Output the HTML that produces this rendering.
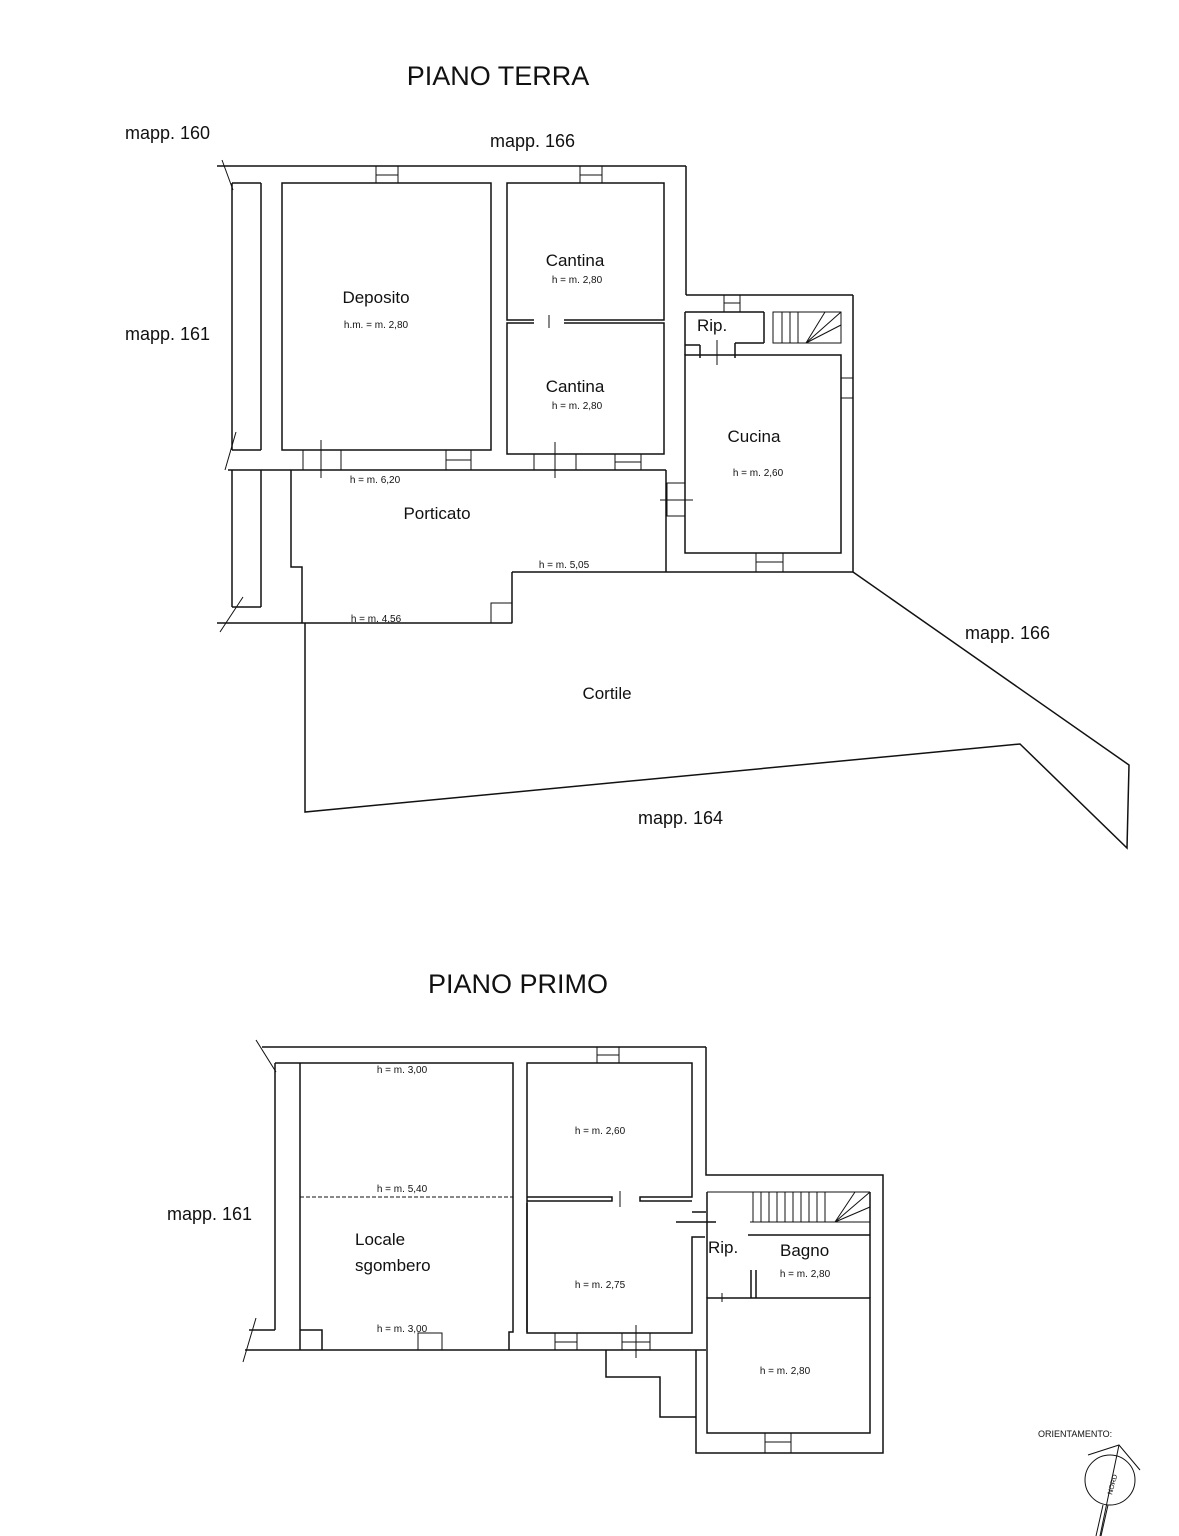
<!DOCTYPE html>
<html><head><meta charset="utf-8"><style>
html,body{margin:0;padding:0;background:#fff;}
svg{display:block;}
text{font-family:"Liberation Sans",sans-serif;fill:#111;}
.t{font-size:17px;}
.m{font-size:18px;}
.s{font-size:10px;}
.h{font-size:27px;}
</style></head><body>
<svg width="1179" height="1536" viewBox="0 0 1179 1536" xmlns="http://www.w3.org/2000/svg">
<g fill="none" stroke="#111" stroke-width="1.5">
<line x1="217" y1="166" x2="686" y2="166"/>
<line x1="222" y1="160" x2="233" y2="190" stroke-width="1"/>
<line x1="232" y1="183" x2="261" y2="183"/>
<line x1="232" y1="183" x2="232" y2="450"/>
<line x1="261" y1="183" x2="261" y2="450"/>
<line x1="232" y1="450" x2="261" y2="450"/>
<line x1="228" y1="470" x2="666" y2="470"/>
<line x1="232" y1="470" x2="232" y2="607"/>
<line x1="261" y1="470" x2="261" y2="607"/>
<line x1="232" y1="607" x2="261" y2="607"/>
<line x1="225" y1="470" x2="236" y2="432" stroke-width="1"/>
<line x1="220" y1="632" x2="243" y2="597" stroke-width="1"/>
<rect x="282" y="183" width="209" height="267"/>
<rect x="507" y="183" width="157" height="137"/>
<rect x="507" y="323" width="157" height="131"/>
<line x1="534" y1="321.5" x2="564" y2="321.5" stroke="#fff" stroke-width="5"/>
<line x1="549" y1="315" x2="549" y2="328" stroke-width="1"/>
<rect x="376" y="166" width="22" height="17" stroke-width="1"/><line x1="376" y1="175" x2="398" y2="175" stroke-width="1"/>
<rect x="580" y="166" width="22" height="17" stroke-width="1"/><line x1="580" y1="175" x2="602" y2="175" stroke-width="1"/>
<rect x="303" y="450" width="38" height="20" stroke-width="1"/><line x1="321" y1="440" x2="321" y2="478" stroke-width="1"/>
<rect x="446" y="450" width="25" height="20" stroke-width="1"/><line x1="446" y1="460" x2="471" y2="460" stroke-width="1"/>
<rect x="534" y="454" width="42" height="16" stroke-width="1"/><line x1="555" y1="442" x2="555" y2="478" stroke-width="1"/>
<rect x="615" y="454" width="26" height="16" stroke-width="1"/><line x1="615" y1="462" x2="641" y2="462" stroke-width="1"/>
<line x1="686" y1="166" x2="686" y2="295"/>
<line x1="686" y1="295" x2="853" y2="295"/>
<line x1="853" y1="295" x2="853" y2="572"/>
<rect x="685" y="355" width="156" height="198"/>
<line x1="685" y1="312" x2="764" y2="312"/>
<line x1="764" y1="312" x2="764" y2="343"/>
<line x1="685" y1="312" x2="685" y2="355"/>
<line x1="735" y1="343" x2="764" y2="343"/>
<line x1="735" y1="343" x2="735" y2="358"/>
<line x1="685" y1="345" x2="700" y2="345"/><line x1="700" y1="345" x2="700" y2="358"/>
<line x1="717" y1="340" x2="717" y2="365" stroke-width="1"/>
<rect x="773" y="312" width="68" height="31" stroke-width="1"/>
<line x1="782" y1="312" x2="782" y2="343" stroke-width="1"/><line x1="790" y1="312" x2="790" y2="343" stroke-width="1"/><line x1="798" y1="312" x2="798" y2="343" stroke-width="1"/>
<line x1="806" y1="343" x2="841" y2="312" stroke-width="1"/><line x1="806" y1="343" x2="841" y2="325" stroke-width="1"/><line x1="806" y1="343" x2="825" y2="312" stroke-width="1"/>
<rect x="724" y="295" width="16" height="17" stroke-width="1"/><line x1="724" y1="303" x2="740" y2="303" stroke-width="1"/>
<rect x="841" y="378" width="12" height="20" stroke-width="1"/>
<rect x="756" y="553" width="27" height="19" stroke-width="1"/><line x1="756" y1="562" x2="783" y2="562" stroke-width="1"/>
<rect x="667" y="483" width="18" height="33" stroke-width="1"/><line x1="660" y1="500" x2="693" y2="500" stroke-width="1"/>
<line x1="666" y1="470" x2="666" y2="572"/>
<line x1="512" y1="572" x2="853" y2="572"/>
<line x1="512" y1="572" x2="512" y2="623"/>
<polyline points="291,470 291,567 302,567 302,623"/>
<line x1="217" y1="623" x2="512" y2="623"/>
<rect x="491" y="603" width="21" height="20" stroke-width="1"/>
<polyline points="305,623 305,812 1020,744 1127,848 1129,765 853,572"/>
<line x1="262" y1="1047" x2="706" y2="1047"/>
<line x1="256" y1="1040" x2="276" y2="1072" stroke-width="1"/>
<line x1="275" y1="1063" x2="300" y2="1063"/>
<line x1="275" y1="1063" x2="275" y2="1330"/>
<line x1="300" y1="1063" x2="300" y2="1350"/>
<line x1="249" y1="1330" x2="275" y2="1330"/>
<line x1="243" y1="1362" x2="256" y2="1318" stroke-width="1"/>
<line x1="245" y1="1350" x2="706" y2="1350"/>
<polyline points="300,1063 513,1063 513,1332 509,1332 509,1350"/>
<polyline points="300,1330 322,1330 322,1350"/>
<line x1="300" y1="1197" x2="513" y2="1197" stroke-dasharray="4,2" stroke-width="1"/>
<rect x="418" y="1333" width="24" height="17" stroke-width="1"/>
<polyline points="527,1332 527,1063 692,1063 692,1197 640,1197 640,1201 692,1201"/>
<polyline points="527,1197 612,1197 612,1201 527,1201"/>
<line x1="620" y1="1191" x2="620" y2="1207" stroke-width="1"/>
<polyline points="527,1203 527,1333 692,1333 692,1237 705,1237"/>
<line x1="692" y1="1212" x2="706" y2="1212"/>
<line x1="676" y1="1222" x2="716" y2="1222"/>
<rect x="597" y="1047" width="22" height="16" stroke-width="1"/><line x1="597" y1="1055" x2="619" y2="1055" stroke-width="1"/>
<rect x="555" y="1333" width="22" height="17" stroke-width="1"/><line x1="555" y1="1342" x2="577" y2="1342" stroke-width="1"/>
<rect x="622" y="1333" width="28" height="17" stroke-width="1"/><line x1="622" y1="1342" x2="650" y2="1342" stroke-width="1"/><line x1="636" y1="1325" x2="636" y2="1358" stroke-width="1"/>
<polyline points="706,1047 706,1175 883,1175 883,1453 696,1453 696,1350"/>
<polyline points="606,1350 606,1377 660,1377 660,1417 696,1417"/>
<rect x="707" y="1298" width="163" height="135"/>
<line x1="707" y1="1192" x2="870" y2="1192" stroke-width="1"/>
<line x1="707" y1="1192" x2="707" y2="1298"/>
<line x1="870" y1="1192" x2="870" y2="1298"/>
<polyline points="748,1235 870,1235" />
<line x1="756" y1="1270" x2="756" y2="1298"/>
<line x1="751" y1="1270" x2="751" y2="1298"/>
<line x1="722" y1="1293" x2="722" y2="1302" stroke-width="1"/>
<line x1="753" y1="1192" x2="753" y2="1222" stroke-width="1"/>
<line x1="761" y1="1192" x2="761" y2="1222" stroke-width="1"/>
<line x1="769" y1="1192" x2="769" y2="1222" stroke-width="1"/>
<line x1="777" y1="1192" x2="777" y2="1222" stroke-width="1"/>
<line x1="785" y1="1192" x2="785" y2="1222" stroke-width="1"/>
<line x1="793" y1="1192" x2="793" y2="1222" stroke-width="1"/>
<line x1="801" y1="1192" x2="801" y2="1222" stroke-width="1"/>
<line x1="809" y1="1192" x2="809" y2="1222" stroke-width="1"/>
<line x1="817" y1="1192" x2="817" y2="1222" stroke-width="1"/>
<line x1="825" y1="1192" x2="825" y2="1222" stroke-width="1"/>
<line x1="835" y1="1222" x2="870" y2="1192" stroke-width="1"/><line x1="835" y1="1222" x2="870" y2="1207" stroke-width="1"/><line x1="835" y1="1222" x2="855" y2="1192" stroke-width="1"/>
<line x1="750" y1="1222" x2="870" y2="1222" stroke-width="1"/>
<rect x="765" y="1433" width="26" height="20" stroke-width="1"/><line x1="765" y1="1442" x2="791" y2="1442" stroke-width="1"/>
<circle cx="1110" cy="1480" r="25" stroke-width="1"/>
<polyline points="1088,1455 1119,1445 1140,1470" stroke-width="1"/>
<line x1="1119" y1="1445" x2="1100" y2="1536" stroke-width="1"/>
<line x1="1103" y1="1505" x2="1096" y2="1536" stroke-width="1"/>
<line x1="1108" y1="1505" x2="1101" y2="1536" stroke-width="1"/>
</g>
<text x="498" y="85" class="h" text-anchor="middle">PIANO TERRA</text>
<text x="518" y="993" class="h" text-anchor="middle">PIANO PRIMO</text>
<text x="125" y="139" class="m">mapp. 160</text>
<text x="490" y="147" class="m">mapp. 166</text>
<text x="125" y="340" class="m">mapp. 161</text>
<text x="965" y="639" class="m">mapp. 166</text>
<text x="638" y="824" class="m">mapp. 164</text>
<text x="167" y="1220" class="m">mapp. 161</text>
<text x="376" y="303" class="t" text-anchor="middle">Deposito</text>
<text x="376" y="328" class="s" text-anchor="middle">h.m. = m. 2,80</text>
<text x="575" y="266" class="t" text-anchor="middle">Cantina</text>
<text x="577" y="283" class="s" text-anchor="middle">h = m. 2,80</text>
<text x="575" y="392" class="t" text-anchor="middle">Cantina</text>
<text x="577" y="409" class="s" text-anchor="middle">h = m. 2,80</text>
<text x="697" y="331" class="t">Rip.</text>
<text x="754" y="442" class="t" text-anchor="middle">Cucina</text>
<text x="758" y="476" class="s" text-anchor="middle">h = m. 2,60</text>
<text x="437" y="519" class="t" text-anchor="middle">Porticato</text>
<text x="375" y="483" class="s" text-anchor="middle">h = m. 6,20</text>
<text x="564" y="568" class="s" text-anchor="middle">h = m. 5,05</text>
<text x="376" y="622" class="s" text-anchor="middle">h = m. 4,56</text>
<text x="607" y="699" class="t" text-anchor="middle">Cortile</text>
<text x="402" y="1073" class="s" text-anchor="middle">h = m. 3,00</text>
<text x="402" y="1192" class="s" text-anchor="middle">h = m. 5,40</text>
<text x="355" y="1245" class="t">Locale</text>
<text x="355" y="1271" class="t">sgombero</text>
<text x="402" y="1332" class="s" text-anchor="middle">h = m. 3,00</text>
<text x="600" y="1134" class="s" text-anchor="middle">h = m. 2,60</text>
<text x="600" y="1288" class="s" text-anchor="middle">h = m. 2,75</text>
<text x="708" y="1253" class="t">Rip.</text>
<text x="780" y="1256" class="t">Bagno</text>
<text x="805" y="1277" class="s" text-anchor="middle">h = m. 2,80</text>
<text x="785" y="1374" class="s" text-anchor="middle">h = m. 2,80</text>
<text x="1038" y="1437" font-size="9">ORIENTAMENTO:</text>
<text x="0" y="0" font-size="7" transform="translate(1112,1495) rotate(-75)">NORD</text>
</svg>
</body></html>
